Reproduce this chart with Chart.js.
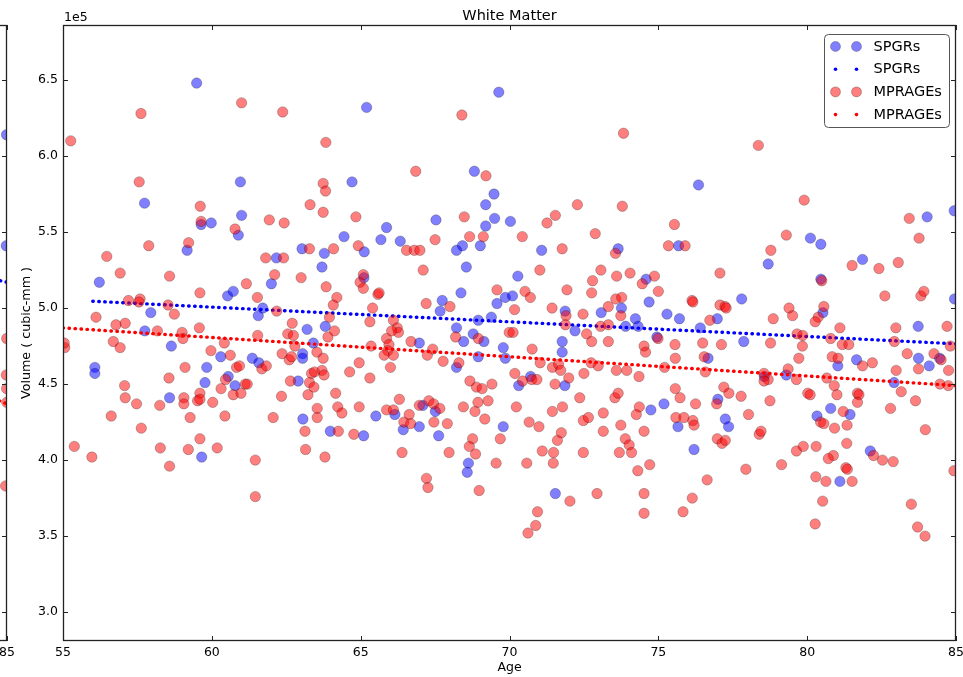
<!DOCTYPE html>
<html><head><meta charset="utf-8">
<script src="https://cdn.jsdelivr.net/npm/chart.js@4.4.1/dist/chart.umd.min.js"></script>
<style>
html,body{margin:0;padding:0;background:#fff;overflow:hidden;}
#wrap{position:relative;width:963px;height:677px;overflow:hidden;background:#fff;}
#main{position:absolute;left:0;top:0;}
#sideBox{position:absolute;left:-293px;top:0;width:310px;height:677px;}
</style></head><body>
<div id="wrap">
<canvas id="main" width="963" height="677"></canvas>
<div id="sideBox"><canvas id="side" width="310" height="677"></canvas></div>
</div>
<script>
// ---------------- DATA (volumes in units of 1e5 cubic-mm) ----------------
const xTicks = [55, 60, 65, 70, 75, 80, 85];
const yTicks = [3.0, 3.5, 4.0, 4.5, 5.0, 5.5, 6.0, 6.5];

const spgrAge = [
56.07,56.07,56.22,59.49,57.74,60.96,64.71,59.64,59.98,61.00,
60.89,64.44,59.17,62.17,63.03,63.78,62.00,63.70,60.53,60.72,
57.95,61.71,61.56,57.75,65.20,69.64,68.82,69.48,69.20,67.53,
69.50,70.03,65.87,69.20,65.68,66.33,68.42,68.22,69.02,65.12,
71.08,73.65,68.55,65.11,70.28,68.37,67.74,67.67,69.86,70.10,
69.58,73.76,74.69,73.08,71.87,74.23,74.59,76.35,84.94,84.03,
75.68,80.11,80.46,81.86,78.69,80.46,77.80,80.53,75.29,75.71,
76.98,83.73,84.95,76.41,58.64,58.58,59.83,59.77,59.66,60.30,
60.55,60.78,61.36,61.58,63.05,63.05,62.90,63.06,63.98,63.41,
63.20,66.97,68.22,68.46,68.78,69.14,68.95,69.79,69.86,71.77,
71.77,72.20,74.95,70.31,70.71,71.86,65.51,66.15,66.43,65.10,
67.09,67.51,66.97,67.62,68.62,68.58,69.79,71.54,74.75,75.19,
75.66,76.20,76.67,77.00,77.25,77.36,77.87,78.56,79.30,80.33,
80.79,81.10,81.03,81.44,81.66,82.12,82.92,83.74,84.10,84.45,
68.22,68.95,69.39,73.90,74.32,63.81];
const spgrVol = [
4.61,4.57,5.17,6.48,5.69,5.83,5.83,5.55,5.56,5.61,
5.48,5.47,5.38,5.33,5.39,5.36,5.16,5.27,5.08,5.11,
4.97,5.00,4.95,4.85,6.32,6.42,5.90,5.75,5.68,5.58,
5.59,5.57,5.53,5.54,5.45,5.44,5.41,5.38,5.41,5.37,
5.38,5.39,5.27,5.20,5.21,5.10,5.05,4.98,5.07,5.08,
5.03,5.00,5.04,4.97,4.98,4.93,5.19,5.81,5.64,5.60,
5.41,5.46,5.42,5.32,5.29,5.19,5.06,4.97,4.96,4.93,
4.93,4.88,5.06,4.87,4.75,4.41,4.61,4.51,4.02,4.68,
4.55,4.49,4.67,4.64,4.70,4.67,4.52,4.27,4.19,4.77,
4.86,4.77,4.61,4.78,4.83,4.78,4.68,4.74,4.67,4.78,
4.71,4.85,4.81,4.49,4.55,4.49,4.29,4.30,4.20,4.16,
4.36,4.32,4.22,4.16,3.98,3.92,4.22,3.78,4.33,4.37,
4.22,4.07,4.67,4.40,4.27,4.22,4.78,4.55,4.56,4.29,
4.34,3.86,4.62,4.30,4.66,4.06,4.51,4.67,4.62,4.67,
4.87,4.92,4.94,4.88,4.88,4.88];

const mprAge = [
55.26,57.62,61.00,62.38,63.83,57.56,63.74,63.82,59.61,59.64,
63.30,63.74,64.84,60.78,61.93,62.43,56.47,56.92,57.88,59.22,
61.81,62.41,63.28,64.09,64.92,58.58,61.16,62.11,63.00,63.84,
64.20,64.08,64.98,59.60,57.20,57.59,57.55,58.53,58.74,56.11,
61.53,62.18,63.95,56.78,57.09,59.58,62.70,
68.40,73.83,66.85,69.21,72.28,73.79,68.48,71.54,71.26,67.50,
68.66,69.12,70.43,72.88,66.54,66.80,66.99,71.77,73.56,67.10,
71.02,73.07,65.09,65.09,65.58,65.62,65.40,65.31,69.58,67.20,
68.00,66.10,70.17,70.52,70.70,71.93,71.43,72.76,72.79,73.60,
74.05,74.46,74.87,75.00,73.57,73.77,73.32,72.47,71.90,71.88,
73.74,66.23,73.32,73.06,
78.36,79.90,83.43,75.54,75.34,75.90,79.30,83.76,78.78,81.51,
82.41,83.06,77.07,80.49,82.61,83.82,83.92,76.13,76.16,77.07,
77.24,77.28,79.39,79.51,80.56,80.37,80.27,76.73,78.86,84.70,
81.10,82.98,
55.06,55.04,56.69,56.92,57.07,57.09,57.47,56.62,57.63,55.38,
55.97,58.56,58.25,58.27,58.58,59.10,59.06,59.06,59.27,59.21,
59.60,59.52,59.60,59.60,59.97,60.03,60.18,60.62,60.42,60.46,
60.31,60.72,60.98,60.44,60.83,60.93,61.12,61.19,61.54,61.68,
61.83,61.46,61.46,62.06,62.34,62.36,62.60,62.68,62.79,62.55,
62.74,62.64,63.23,63.13,63.15,63.35,63.45,63.28,63.43,63.70,
63.77,63.54,63.54,63.53,63.74,63.90,63.80,64.16,64.23,64.37,
64.25,64.77,64.63,64.95,64.95,64.12,59.00,59.03,58.17,
65.35,65.87,65.95,65.91,65.79,66.10,66.00,65.31,66.27,66.04,
66.69,67.42,67.24,67.77,68.30,68.19,68.95,69.99,70.12,70.76,
71.03,72.59,72.76,73.32,71.44,71.65,71.72,72.50,71.99,72.98,
72.74,73.59,73.94,74.35,74.52,74.57,74.99,70.18,70.44,70.75,
70.92,71.53,72.36,73.54,73.65,66.30,65.87,66.10,66.45,66.63,
66.68,66.39,66.97,67.29,67.45,67.66,67.46,67.91,67.97,67.21,
67.26,68.45,68.84,68.94,69.28,69.17,68.67,68.89,69.08,69.41,
68.76,68.65,68.86,68.98,69.55,69.69,70.23,70.66,70.99,70.58,
71.10,71.44,71.78,71.61,71.74,71.48,71.47,72.03,70.94,70.88,
70.62,72.48,72.65,73.15,73.15,72.48,72.94,73.74,73.89,74.02,
74.10,73.69,74.26,74.36,74.52,74.71,74.31,74.52,74.52,
75.21,75.56,75.57,75.57,75.73,75.59,75.86,76.25,76.16,76.20,
76.64,76.14,75.83,76.49,76.54,77.12,76.58,77.20,77.37,76.96,
76.98,77.14,77.25,77.94,77.78,78.03,78.39,78.45,78.75,78.55,
78.69,78.55,78.77,79.14,79.36,79.64,79.72,79.84,79.66,79.64,
79.87,80.02,80.10,80.29,80.63,80.27,80.52,80.30,80.45,80.56,
80.88,80.71,80.92,80.66,80.91,81.00,81.21,81.34,81.30,81.35,
81.33,81.51,80.84,81.04,81.18,81.40,81.69,81.74,81.69,81.86,
82.19,82.23,82.53,82.89,82.80,82.99,82.93,83.16,83.36,83.74,
83.64,83.97,83.50,83.71,83.96,84.26,84.50,84.75,84.81,84.46,
84.74,84.93,79.85,80.79];
const mprVol = [
6.10,6.28,6.35,6.29,6.09,5.83,5.82,5.77,5.67,5.57,
5.68,5.63,5.60,5.52,5.58,5.56,5.34,5.23,5.41,5.43,
5.33,5.33,5.39,5.39,5.41,5.21,5.16,5.22,5.20,5.14,
5.07,5.02,5.17,5.10,5.05,5.06,5.04,5.02,4.96,4.94,
5.07,4.98,4.94,4.89,4.90,4.87,4.90,
6.27,6.15,5.90,5.87,5.68,5.67,5.60,5.61,5.56,5.45,
5.47,5.47,5.47,5.49,5.38,5.38,5.38,5.39,5.36,5.25,
5.25,5.25,5.22,5.13,5.09,5.10,5.00,4.91,5.12,5.03,
5.01,4.92,4.99,5.11,5.07,5.12,5.00,5.10,5.18,5.21,
5.23,5.16,5.21,5.11,5.06,5.07,5.01,4.96,4.95,4.89,
4.95,4.87,4.89,4.88,
6.07,5.71,5.59,5.55,5.41,5.41,5.48,5.46,5.38,5.28,
5.26,5.30,5.23,5.18,5.08,5.08,5.11,5.05,5.04,5.02,
5.01,5.00,5.00,4.95,5.01,4.94,4.91,4.92,4.93,4.88,
4.87,4.87,
4.74,4.77,4.78,4.74,4.49,4.41,4.37,4.29,4.21,4.09,
4.02,4.54,4.36,4.08,3.96,4.61,4.41,4.37,4.28,4.07,
4.44,4.39,4.40,4.14,4.72,4.38,4.08,4.69,4.77,4.53,
4.47,4.43,4.44,4.29,4.61,4.62,4.50,4.50,4.82,4.60,
4.62,4.00,3.76,4.28,4.42,4.70,4.66,4.68,4.75,4.83,
4.82,4.52,4.43,4.19,4.07,4.57,4.58,4.51,4.48,4.59,
4.56,4.34,4.28,4.71,4.67,4.81,4.02,4.44,4.35,4.31,
4.19,4.17,4.58,4.35,4.64,4.85,4.84,4.80,4.85,
4.75,4.80,4.76,4.72,4.69,4.69,4.61,4.54,4.84,4.85,
4.78,4.73,4.69,4.65,4.64,4.81,4.80,4.84,4.84,4.73,
4.64,4.83,4.78,4.78,4.61,4.63,4.59,4.57,4.54,4.62,
4.64,4.59,4.59,4.55,4.75,4.71,4.80,4.57,4.52,4.53,
4.53,4.50,4.41,4.41,4.44,4.40,4.33,4.33,4.25,4.30,
4.24,4.05,4.36,4.39,4.37,4.34,4.25,4.24,4.05,3.88,
3.82,4.35,4.32,4.38,4.39,4.27,4.52,4.48,4.47,4.50,
4.14,4.09,4.04,3.80,3.98,4.14,4.35,4.25,4.22,3.98,
4.06,4.32,4.35,4.13,4.18,4.05,3.98,3.73,3.66,3.57,
3.52,4.26,4.28,4.31,4.19,4.05,3.78,4.23,4.14,4.10,
4.05,4.05,4.30,4.35,4.19,3.97,3.93,3.78,3.65,
4.61,4.76,4.67,4.47,4.41,4.28,4.28,4.37,4.26,4.23,
3.87,3.75,3.66,4.77,4.68,4.76,4.58,4.48,4.44,4.37,
4.14,4.11,4.13,3.94,4.42,4.30,4.17,4.19,4.39,4.57,
4.53,4.52,4.77,3.97,4.60,4.53,4.67,4.75,4.83,4.06,
4.09,4.44,4.43,3.89,3.86,3.58,3.73,4.09,4.25,4.24,
4.03,4.01,4.21,4.54,4.49,4.43,4.32,4.23,3.95,3.94,
4.11,3.86,4.68,4.67,4.76,4.76,4.44,4.43,4.38,4.62,
4.64,4.03,4.00,3.99,4.34,4.59,4.78,4.45,4.70,4.60,
4.39,4.20,3.71,3.56,3.50,4.70,4.66,4.59,4.75,4.50,
4.49,3.93,4.82,4.80];

// fitted trend lines, end points
const spgrFitAge = [56.0, 85.0];
const spgrFitVol = [5.045, 4.765];
const mprFitAge  = [55.0, 85.0];
const mprFitVol  = [4.87, 4.49];

// neighbouring (cut-off) panel on the left: only its right edge is visible
const sideSpgrAge = [84.95, 84.92];
const sideSpgrVol = [6.14, 5.41];
const sideMprAge  = [84.97, 84.93, 84.96, 84.98, 84.85];
const sideMprVol  = [4.80, 4.56, 4.47, 4.38, 3.83];
const sideSpgrFitAge = [84.3, 85.0];
const sideSpgrFitVol = [5.18, 5.17];
const sideMprFitAge  = [84.2, 85.0];
const sideMprFitVol  = [4.39, 4.37];

// ---------------- STYLE ----------------
const FONT = "'DejaVu Sans', 'Bitstream Vera Sans', sans-serif";
Chart.defaults.font.family = FONT;
Chart.defaults.color = '#000';
const BLUE_FILL = 'rgba(0,0,255,0.5)';
const RED_FILL = 'rgba(255,0,0,0.5)';
const EDGE = 'rgba(0,0,0,0.35)';

const pts = (xs, ys) => xs.map((x, i) => ({x: x, y: ys[i]}));

function scatterSet(label, xs, ys, fill, order) {
  return {label, data: pts(xs, ys), backgroundColor: fill, borderColor: EDGE,
    borderWidth: 0.7, pointRadius: 5.2, pointHoverRadius: 5.2, clip: 0, order};
}
function fitSet(label, xs, ys, color, order) {
  return {label, type: 'line', data: pts(xs, ys), borderColor: color, borderWidth: 3.4,
    borderDash: [0.5, 5.5], borderCapStyle: 'round', pointRadius: 0, fill: false,
    tension: 0, clip: 0, order};
}

function framePlugin(withLegend) {
  return {
    id: 'mplFrame',
    afterDatasetsDraw(chart) {
      const {ctx, chartArea: a} = chart;
      const xs = chart.scales.x, ys = chart.scales.y;
      ctx.save();
      ctx.strokeStyle = '#222';
      ctx.lineWidth = 1;
      const T = 5;
      ctx.beginPath();
      xTicks.forEach(v => {
        const p = Math.round(xs.getPixelForValue(v)) + 0.5;
        ctx.moveTo(p, a.bottom); ctx.lineTo(p, a.bottom - T);
        ctx.moveTo(p, a.top); ctx.lineTo(p, a.top + T);
      });
      yTicks.forEach(v => {
        const p = Math.round(ys.getPixelForValue(v)) + 0.5;
        ctx.moveTo(a.left, p); ctx.lineTo(a.left + T, p);
        ctx.moveTo(a.right, p); ctx.lineTo(a.right - T, p);
      });
      ctx.stroke();
      ctx.lineWidth = 1.3;
      ctx.strokeRect(a.left + 0.5, a.top + 0.5, a.right - a.left - 1, a.bottom - a.top - 1);
      ctx.restore();
    },
    afterDraw(chart) {
      if (!withLegend) return;
      const {ctx, chartArea: a} = chart;
      ctx.save();
      // offset text
      ctx.font = '12.5px ' + FONT;
      ctx.fillStyle = '#000';
      ctx.textAlign = 'left';
      ctx.textBaseline = 'alphabetic';
      ctx.fillText('1e5', a.left + 1, a.top - 4);
      // legend
      const lw = 125, lh = 93;
      const lx = Math.round(a.right - 7 - lw) + 0.5, ly = Math.round(a.top + 9) + 0.5;
      ctx.beginPath();
      if (ctx.roundRect) ctx.roundRect(lx, ly, lw, lh, 4); else ctx.rect(lx, ly, lw, lh);
      ctx.fillStyle = '#fff';
      ctx.fill();
      ctx.strokeStyle = '#555';
      ctx.lineWidth = 1;
      ctx.stroke();
      const rows = [
        {big: true, color: BLUE_FILL, label: 'SPGRs'},
        {big: false, color: '#0000ff', label: 'SPGRs'},
        {big: true, color: RED_FILL, label: 'MPRAGEs'},
        {big: false, color: '#ff0000', label: 'MPRAGEs'}
      ];
      ctx.font = '14.5px ' + FONT;
      ctx.textBaseline = 'middle';
      rows.forEach((r, i) => {
        const cy = ly + 12 + i * 22.7;
        [lx + 11, lx + 32].forEach(cx => {
          ctx.beginPath();
          ctx.arc(cx, cy, r.big ? 5 : 1.8, 0, Math.PI * 2);
          ctx.fillStyle = r.color;
          ctx.fill();
          if (r.big) { ctx.strokeStyle = EDGE; ctx.lineWidth = 0.7; ctx.stroke(); }
        });
        ctx.fillStyle = '#000';
        ctx.fillText(r.label, lx + 49, cy + 0.5);
      });
      ctx.restore();
    }
  };
}

const Y_MIN = 2.81, Y_MAX = 6.862;

// ---------------- MAIN CHART ----------------
new Chart(document.getElementById('main'), {
  type: 'scatter',
  data: {datasets: [
    scatterSet('SPGRs', spgrAge, spgrVol, BLUE_FILL, 4),
    fitSet('SPGRs', spgrFitAge, spgrFitVol, '#0000ff', 3),
    scatterSet('MPRAGEs', mprAge, mprVol, RED_FILL, 2),
    fitSet('MPRAGEs', mprFitAge, mprFitVol, '#ff0000', 1)
  ]},
  options: {
    responsive: false, animation: false, devicePixelRatio: 1,
    layout: {padding: {left: 0, right: 0, top: 0, bottom: 0}},
    events: [],
    plugins: {
      legend: {display: false}, tooltip: {enabled: false},
      title: {display: true, text: 'White Matter', fullSize: false, color: '#000',
        font: {size: 14.5, weight: 'normal'}, padding: {top: 7.6, bottom: 0}}
    },
    scales: {
      x: {
        type: 'linear', min: 55, max: 85,
        afterBuildTicks: s => { s.ticks = xTicks.map(v => ({value: v})); },
        ticks: {padding: 4, font: {size: 12.5}, color: '#000', maxRotation: 0, autoSkip: false,
          callback: v => String(v)},
        grid: {display: false, drawTicks: false}, border: {display: false},
        title: {display: true, text: 'Age', color: '#000', font: {size: 12.5}, padding: {top: 0, bottom: 2}},
        afterFit: s => { s.height = 36; s.paddingLeft = 0; s.paddingRight = 7; }
      },
      y: {
        type: 'linear', min: Y_MIN, max: Y_MAX,
        afterBuildTicks: s => { s.ticks = yTicks.map(v => ({value: v})); },
        ticks: {padding: 5, font: {size: 12.5}, color: '#000', autoSkip: false,
          callback: v => Number(v).toFixed(1)},
        grid: {display: false, drawTicks: false}, border: {display: false},
        title: {display: true, text: 'Volume ( cubic-mm )', color: '#000', font: {size: 12.7},
          padding: {top: 19, bottom: 0}},
        afterFit: s => { s.width = 63; s.paddingTop = 0; s.paddingBottom = 0; }
      }
    }
  },
  plugins: [framePlugin(true)]
});

// ---------------- LEFT (CUT-OFF) PANEL ----------------
new Chart(document.getElementById('side'), {
  type: 'scatter',
  data: {datasets: [
    scatterSet('SPGRs', sideSpgrAge, sideSpgrVol, BLUE_FILL, 4),
    fitSet('SPGRs', sideSpgrFitAge, sideSpgrFitVol, '#0000ff', 3),
    scatterSet('MPRAGEs', sideMprAge, sideMprVol, RED_FILL, 2),
    fitSet('MPRAGEs', sideMprFitAge, sideMprFitVol, '#ff0000', 1)
  ]},
  options: {
    responsive: false, animation: false, devicePixelRatio: 1, events: [],
    layout: {padding: {left: 10, right: 0, top: 25, bottom: 0}},
    plugins: {legend: {display: false}, tooltip: {enabled: false}, title: {display: false}},
    scales: {
      x: {
        type: 'linear', min: 55, max: 85,
        afterBuildTicks: s => { s.ticks = xTicks.map(v => ({value: v})); },
        ticks: {padding: 4, font: {size: 12.5}, color: '#000', maxRotation: 0, autoSkip: false},
        grid: {display: false, drawTicks: false}, border: {display: false},
        afterFit: s => { s.height = 36; s.paddingLeft = 0; s.paddingRight = 10; }
      },
      y: {
        type: 'linear', min: Y_MIN, max: Y_MAX, display: false
      }
    }
  },
  plugins: [framePlugin(false)]
});
</script>
</body></html>
